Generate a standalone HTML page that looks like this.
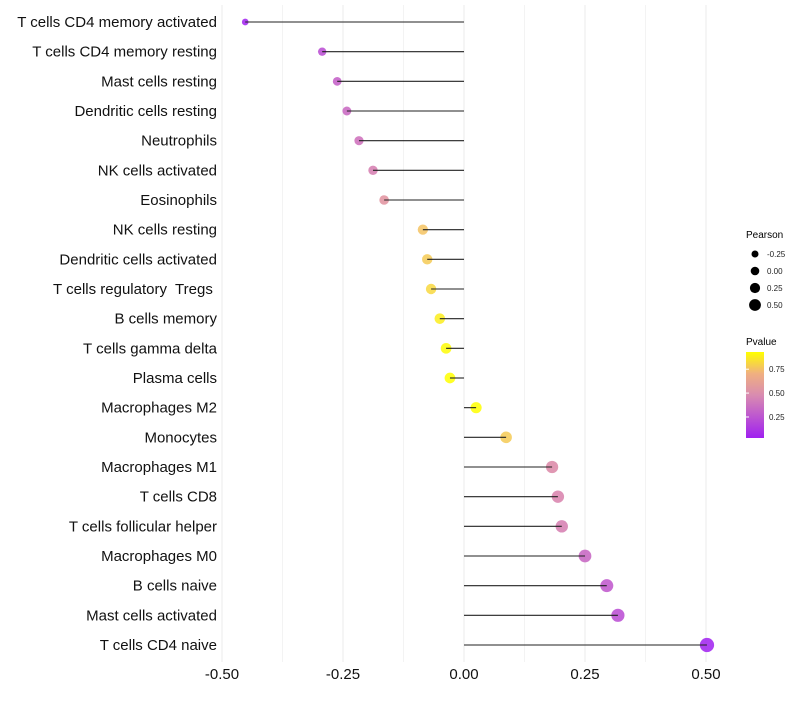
<!DOCTYPE html>
<html><head><meta charset="utf-8"><style>
body{margin:0;background:#fff;font-family:"Liberation Sans",sans-serif}
svg text{font-family:"Liberation Sans",sans-serif;white-space:pre}
</style></head><body>
<svg id="c" width="800" height="700" xmlns="http://www.w3.org/2000/svg">
<defs><linearGradient id="pg" x1="0" y1="1" x2="0" y2="0">
<stop offset="0" stop-color="#a020f0"/><stop offset="0.5" stop-color="#d98cb0"/><stop offset="0.75" stop-color="#f0b080"/><stop offset="1" stop-color="#ffff00"/></linearGradient></defs>
<g id="grid"></g><g id="dots"></g><g id="marks"></g><g id="labels"></g><g id="xticks"></g>
<g>
<text x="746" y="238" font-size="10">Pearson</text>
<g id="sizeleg"></g>
<text x="746" y="345" font-size="10">Pvalue</text>
<rect x="746" y="352" width="18" height="86" fill="url(#pg)"/>
<g id="colleg"></g>
</g>
</svg>
<script>
const categories=["T cells CD4 memory activated","T cells CD4 memory resting","Mast cells resting","Dendritic cells resting","Neutrophils","NK cells activated","Eosinophils","NK cells resting","Dendritic cells activated","T cells regulatory  Tregs ","B cells memory","T cells gamma delta","Plasma cells","Macrophages M2","Monocytes","Macrophages M1","T cells CD8","T cells follicular helper","Macrophages M0","B cells naive","Mast cells activated","T cells CD4 naive"];
const pearson=[-0.452,-0.293,-0.262,-0.242,-0.217,-0.188,-0.165,-0.085,-0.076,-0.068,-0.050,-0.037,-0.029,0.025,0.087,0.182,0.194,0.202,0.250,0.295,0.318,0.502];
const pvalue=[0.03,0.22,0.3,0.34,0.38,0.45,0.55,0.76,0.78,0.82,0.88,0.92,0.94,0.95,0.78,0.5,0.47,0.45,0.33,0.27,0.22,0.03];
const xTicks=[-0.5,-0.25,0,0.25,0.5];
const xTickLabels=["-0.50","-0.25","0.00","0.25","0.50"];
const sizeLegend=[-0.25,0,0.25,0.5];
const sizeLegendLabels=["-0.25","0.00","0.25","0.50"];
const colLegend=[0.25,0.5,0.75];
const NS="http://www.w3.org/2000/svg";
const xs=v=>464+v*484;
const ys=i=>22+i*(623/21);
const rs=v=>Math.sqrt(Math.max(2,30+42*v));
const pmin=0.03,pmax=0.93;
const cy=p=>438-(p-pmin)/(pmax-pmin)*86;
function lerp(a,b,t){return a.map((x,i)=>Math.round(x+(b[i]-x)*t));}
const stops=[[0,[160,32,240]],[0.5,[217,130,170]],[0.75,[240,176,128]],[1,[255,255,0]]];
function col(p){let t=Math.max(0,Math.min(1,(p-pmin)/(pmax-pmin)));for(let i=1;i<stops.length;i++){if(t<=stops[i][0]){const s=stops[i-1],e=stops[i];const c=lerp(s[1],e[1],(t-s[0])/(e[0]-s[0]));return `rgb(${c})`;}}return "rgb(255,255,0)";}
function mk(tag,attrs,parent){const e=document.createElementNS(NS,tag);for(const k in attrs)e.setAttribute(k,attrs[k]);document.getElementById(parent).appendChild(e);return e;}
for(let v=-0.5;v<=0.5001;v+=0.125){const g=mk("line",{x1:xs(v),x2:xs(v),y1:5,y2:662,stroke:"#ebebeb","stroke-width":Math.abs(v*4-Math.round(v*4))<1e-6?1:0.6},"grid");

}
categories.forEach((c,i)=>{
const y=ys(i);
const d=mk("circle",{cx:xs(pearson[i]),cy:y,r:rs(pearson[i]),fill:col(pvalue[i]),"fill-opacity":0.85},"dots");


const l=mk("line",{x1:xs(0),x2:xs(pearson[i]),y1:y,y2:y,stroke:"#222","stroke-width":1.1},"marks");


const t=mk("text",{x:217,y:y+5,"text-anchor":"end","font-size":15,fill:"#111"},"labels");
t.textContent=c;


});
xTicks.forEach((v,i)=>{const t=mk("text",{x:xs(v),y:679,"text-anchor":"middle","font-size":15,fill:"#111"},"xticks");t.textContent=xTickLabels[i];

});
sizeLegend.forEach((v,i)=>{const y=254+i*17;
const c=mk("circle",{cx:755,cy:y,r:3.5+i*0.8,fill:"#000"},"sizeleg");


const t=mk("text",{x:767,y:y+3,"font-size":8,fill:"#222"},"sizeleg");t.textContent=sizeLegendLabels[i];

});
colLegend.forEach(v=>{const y=cy(v);
const l=mk("line",{x1:746,x2:749,y1:y,y2:y,stroke:"#fff"},"colleg");


const t=mk("text",{x:769,y:y+3,"font-size":8,fill:"#222"},"colleg");t.textContent=v.toFixed(2);

});
</script>
</body></html>
